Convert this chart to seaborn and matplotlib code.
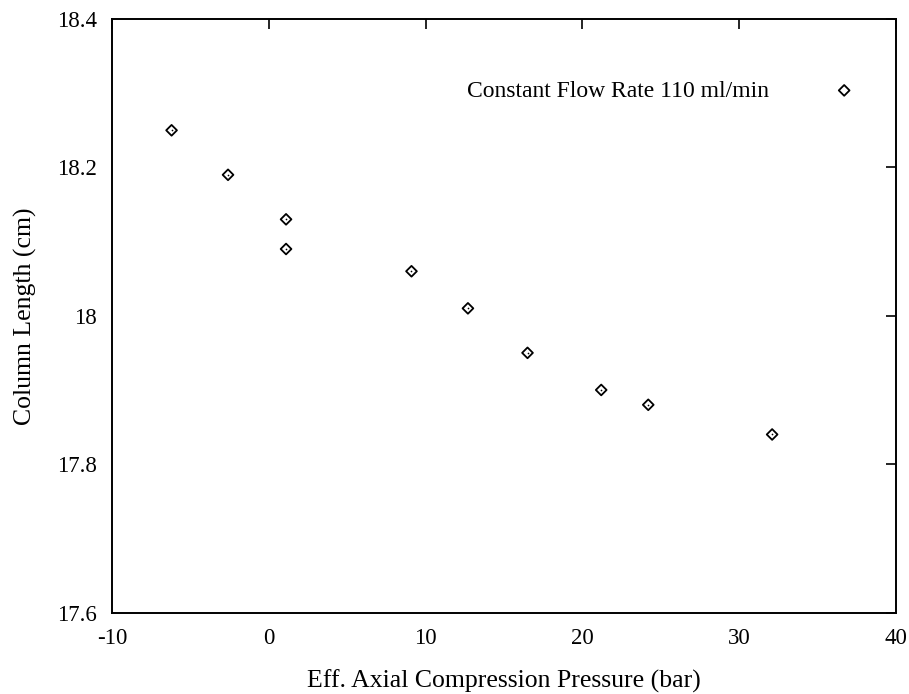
import matplotlib
matplotlib.use("Agg")
import matplotlib.pyplot as plt
import seaborn as sns
import pandas as pd

pressure = [-6.2, -2.6, 1.1, 1.1, 9.1, 12.7, 16.5, 21.2, 24.2, 32.1]
length = [18.25, 18.19, 18.13, 18.09, 18.06, 18.01, 17.95, 17.90, 17.88, 17.84]
series_label = "Constant Flow Rate 110 ml/min"
x_ticks = [-10, 0, 10, 20, 30, 40]
y_ticks = [17.6, 17.8, 18.0, 18.2, 18.4]
y_tick_labels = ["17.6", "17.8", "18", "18.2", "18.4"]

sns.set_theme(style="white")
plt.rcParams["font.family"] = ["Liberation Serif", "DejaVu Serif"]
plt.rcParams["axes.unicode_minus"] = False
plt.rcParams["text.color"] = "black"
plt.rcParams["axes.labelcolor"] = "black"

df = pd.DataFrame({"x": pressure, "y": length})

fig = plt.figure(figsize=(9.09, 6.94), dpi=100)
ax = fig.add_axes([0.1232, 0.1174, 0.8625, 0.8552])

sns.scatterplot(data=df, x="x", y="y", ax=ax, marker="D", s=30,
                facecolors="none", edgecolor="black", linewidth=1.3,
                label=series_label, zorder=3)
sns.scatterplot(data=df, x="x", y="y", ax=ax, marker="o", s=1.5,
                color="black", linewidth=0, legend=False, zorder=4)

ax.set_xlim(-10, 40)
ax.set_ylim(17.6, 18.4)
ax.set_xticks(x_ticks)
ax.set_yticks(y_ticks)
ax.set_yticklabels(y_tick_labels)
ax.tick_params(axis="both", which="major", direction="in", length=7, width=1.2,
               top=True, right=True, labelsize=16.5, colors="black")
ax.tick_params(axis="y", pad=11)
ax.tick_params(axis="x", pad=11)
for s in ax.spines.values():
    s.set_color("black")
    s.set_linewidth(1.4)

ax.set_xlabel("Eff. Axial Compression Pressure (bar)", fontsize=18.5, labelpad=15, color="black")
ax.set_ylabel("Column Length (cm)", fontsize=18.5, labelpad=14, color="black")

leg = ax.legend(loc="center right", frameon=False, markerfirst=False, fontsize=17,
                bbox_to_anchor=(0.964, 0.879), handletextpad=2.2, handlelength=2,
                borderpad=0, borderaxespad=0)
for t in leg.get_texts():
    t.set_color("black")

fig.savefig("out.png", dpi=100)
